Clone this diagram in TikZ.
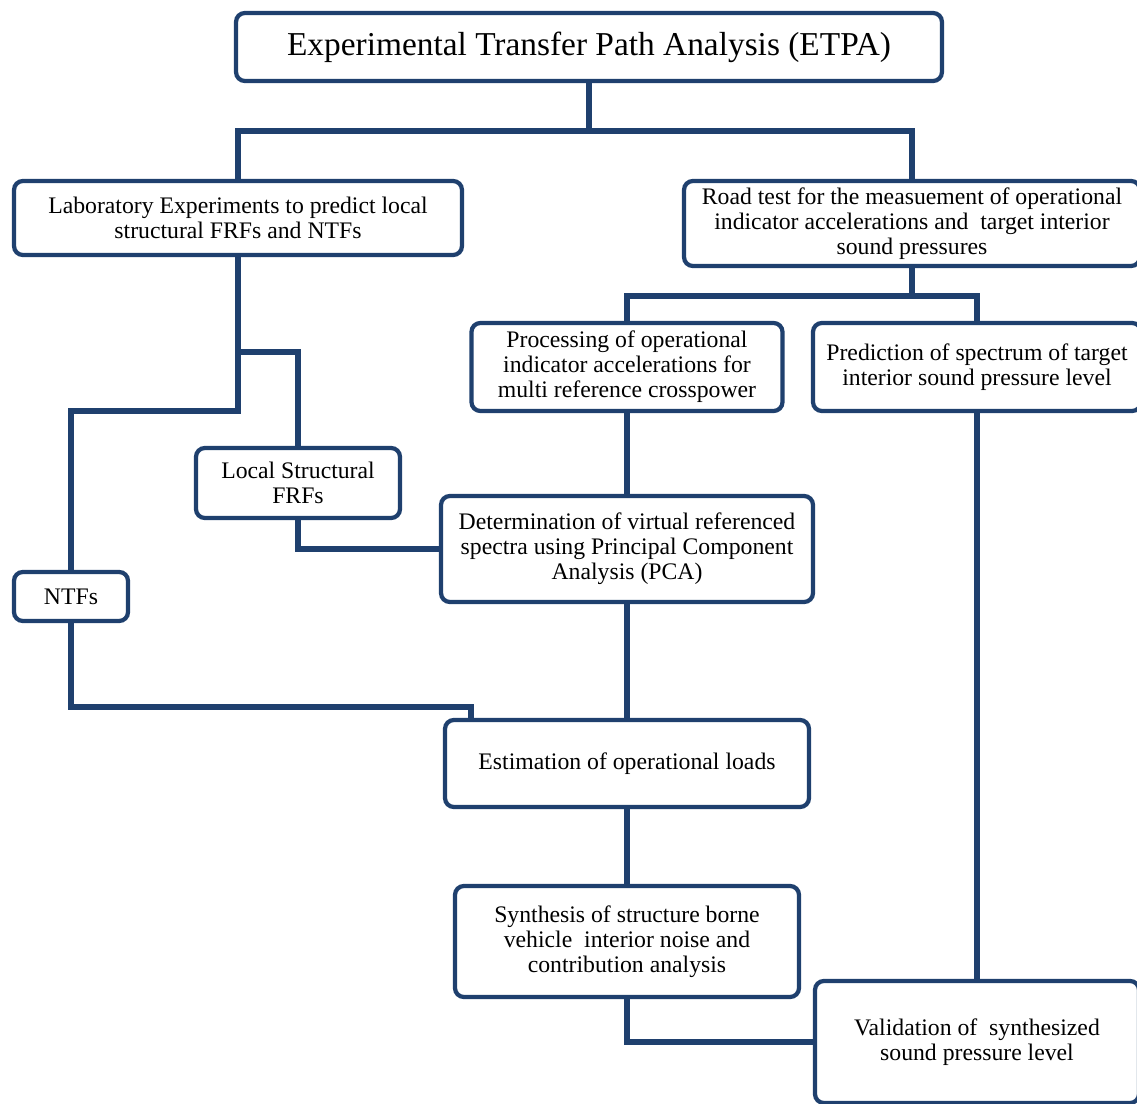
\documentclass[tikz,border=0pt]{standalone}
\usepackage{fontspec}
\setmainfont{Liberation Serif}
\usepackage{tikz}
\definecolor{etpablue}{RGB}{31,64,110}

\begin{document}
\begin{tikzpicture}[x=0.02cm,y=-0.02cm,
  box/.style={draw=etpablue,line width=2.4pt,rounded corners=5pt,fill=white,align=center,inner sep=0pt,font=\fontsize{13.5}{14.2}\selectfont},
  link/.style={draw=etpablue,line width=3pt}]
\useasboundingbox (0,0) rectangle (1137,1104);
\clip (0,0) rectangle (1137,1104);
% boxes, sizes in cm
\node[box,minimum width=14.12cm,minimum height=1.36cm,font=\fontsize{19}{23}\selectfont] (etpa) at (589,47) {Experimental Transfer Path Analysis (ETPA)};
\node[box,minimum width=8.96cm,minimum height=1.48cm] (lab) at (238,218) {Laboratory Experiments to predict local\\structural FRFs and NTFs};
\node[box,minimum width=9.12cm,minimum height=1.7cm] (road) at (912,223.5) {Road test for the measuement of operational\\indicator accelerations and\ \ target interior\\sound pressures};
\node[box,minimum width=6.22cm,minimum height=1.76cm] (proc) at (627,367) {Processing of operational\\indicator accelerations for\\multi reference crosspower};
\node[box,minimum width=6.56cm,minimum height=1.76cm] (pred) at (977,367) {Prediction of spectrum of target\\interior sound pressure level};
\node[box,minimum width=4.08cm,minimum height=1.4cm] (loc) at (298,483) {Local Structural\\FRFs};
\node[box,minimum width=7.44cm,minimum height=2.12cm] (det) at (627,549) {Determination of virtual referenced\\spectra using Principal Component\\Analysis (PCA)};
\node[box,minimum width=2.28cm,minimum height=0.98cm] (ntf) at (71,596.5) {NTFs};
\node[box,minimum width=7.28cm,minimum height=1.74cm] (est) at (627,763.5) {Estimation of operational loads};
\node[box,minimum width=6.88cm,minimum height=2.22cm] (syn) at (627,941.5) {Synthesis of structure borne\\vehicle\ \ interior noise and\\contribution analysis};
\node[box,minimum width=6.48cm,minimum height=2.44cm] (val) at (977,1042) {Validation of\ \ synthesized\\sound pressure level};
% connectors
\draw[link] (etpa.south) -- ++(0,48) coordinate (top);
\draw[link] (lab.north) |- (top) -| (road.north);
\draw[link] (lab.south) -- ++(0,154) -| (ntf.north);
\draw[link] (lab.south) ++(0,95) -| (loc.north);
\draw[link] (road.south) -- ++(0,28) coordinate (mid);
\draw[link] (proc.north) |- (mid) -| (pred.north);
\draw[link] (proc) -- (det);
\draw[link] (loc.south) |- (det.west);
\draw[link] (det) -- (est);
\draw[link] (ntf.south) -- ++(0,84) -| ([xshift=0.56cm]est.north west);
\draw[link] (est) -- (syn);
\draw[link] (syn.south) |- (val.west);
\draw[link] (pred) -- (val);
\end{tikzpicture}
\end{document}
